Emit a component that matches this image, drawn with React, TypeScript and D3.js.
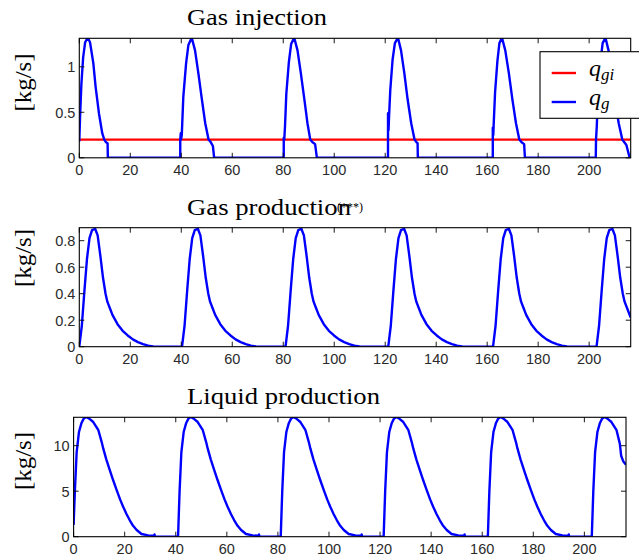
import React from "react";
import * as d3 from "d3";

// ---------- data ----------
const timeMax = 216.3;
const xTickValues = [0, 20, 40, 60, 80, 100, 120, 140, 160, 180, 200];

const injTicks = [0, 0.5, 1];
const prodTicks = [0, 0.2, 0.4, 0.6, 0.8];
const liqTicks = [0, 5, 10];

const titles = ["Gas injection", "Gas production", "Liquid production"];
const yLabel = "[kg/s]";

// q_gi : constant injection set-point
const qgi: [number, number][] = [[0, 0.2], [216.3, 0.2]];

// q_g : gas injection rate
const qgInj: [number, number][] = [
  [0, 0.18], [0.3, 0.45], [0.8, 0.8], [1.5, 1.1], [2.3, 1.27], [3.3, 1.32], [4.2, 1.27], [5.5, 1.04], [6.4, 0.78], [7.7, 0.49], [9.0, 0.27], [9.8, 0.2], [10.5, 0.17], [11.1, 0.16], [11.2, 0],
  [39.6, 0], [39.6, 0.2], [39.8, 0.27], [39.9, 0.2], [40.2, 0.25], [40.8, 0.67], [41.9, 1.04], [42.8, 1.24], [44.1, 1.32], [45.4, 1.18], [46.7, 0.93], [48.1, 0.64], [49.4, 0.38], [50.7, 0.2], [51.6, 0.17], [52.4, 0.13], [52.9, 0],
  [80.2, 0], [80.2, 0.22], [80.4, 0.2], [80.7, 0.35], [81.2, 0.7], [82.2, 1.05], [83.1, 1.25], [84.3, 1.32], [85.6, 1.18], [86.9, 0.93], [88.3, 0.64], [89.5, 0.38], [90.6, 0.2], [91.5, 0.17], [92.5, 0.15], [93.2, 0],
  [121.1, 0], [121.1, 0.49], [121.3, 0.3], [121.5, 0.45], [122, 0.75], [122.9, 1.08], [123.8, 1.26], [125, 1.32], [126.2, 1.18], [127.5, 0.93], [128.8, 0.64], [130.2, 0.38], [131.5, 0.2], [132.3, 0.17], [132.7, 0.16], [132.8, 0],
  [162.2, 0], [162.2, 0.33], [162.4, 0.25], [162.6, 0.4], [163.1, 0.72], [164, 1.06], [164.8, 1.26], [165.8, 1.32], [167.1, 1.18], [168.5, 0.93], [169.9, 0.64], [171.3, 0.38], [172.6, 0.2], [173.5, 0.17], [174.5, 0.15], [174.8, 0],
  [202.6, 0], [202.7, 0.2], [203, 0.35], [203.5, 0.7], [204.4, 1.05], [205.3, 1.26], [206.4, 1.32], [207.6, 1.18], [208.8, 0.93], [210.1, 0.64], [211.6, 0.38], [213, 0.2], [213.8, 0.17], [214.6, 0.14], [215.9, 0], [216.3, 0],
];

// gas production
const gasProd: [number, number][] = [
  [0, 0], [1, 0.16], [2, 0.42], [3, 0.66], [4, 0.82], [5, 0.88], [6.2, 0.89], [7.2, 0.84], [8.3, 0.68], [9.3, 0.52], [10.3, 0.4], [11, 0.34], [12, 0.29], [13, 0.24], [15, 0.17], [17, 0.12], [19, 0.085], [21, 0.055], [23, 0.035], [25, 0.02], [27, 0.008], [29, 0.002], [31, 0],
  [40.3, 0], [41.3, 0.16], [42.3, 0.42], [43.3, 0.66], [44.3, 0.82], [45.3, 0.88], [46.5, 0.89], [47.5, 0.84], [48.6, 0.68], [49.6, 0.52], [50.6, 0.4], [51.3, 0.34], [52.3, 0.29], [53.3, 0.24], [55.3, 0.17], [57.3, 0.12], [59.3, 0.085], [61.3, 0.055], [63.3, 0.035], [65.3, 0.02], [67.3, 0.008], [69.3, 0.002], [71.3, 0],
  [80.9, 0], [81.9, 0.16], [82.9, 0.42], [83.9, 0.66], [84.9, 0.82], [85.9, 0.88], [87.1, 0.89], [88.1, 0.84], [89.2, 0.68], [90.2, 0.52], [91.2, 0.4], [91.9, 0.34], [92.9, 0.29], [93.9, 0.24], [95.9, 0.17], [97.9, 0.12], [99.9, 0.085], [101.9, 0.055], [103.9, 0.035], [105.9, 0.02], [107.9, 0.008], [109.9, 0.002], [111.9, 0],
  [121.2, 0], [122.2, 0.16], [123.2, 0.42], [124.2, 0.66], [125.2, 0.82], [126.2, 0.88], [127.4, 0.89], [128.4, 0.84], [129.5, 0.68], [130.5, 0.52], [131.5, 0.4], [132.2, 0.34], [133.2, 0.29], [134.2, 0.24], [136.2, 0.17], [138.2, 0.12], [140.2, 0.085], [142.2, 0.055], [144.2, 0.035], [146.2, 0.02], [148.2, 0.008], [150.2, 0.002], [152.2, 0],
  [162.3, 0], [163.3, 0.16], [164.3, 0.42], [165.3, 0.66], [166.3, 0.82], [167.3, 0.88], [168.5, 0.89], [169.5, 0.84], [170.6, 0.68], [171.6, 0.52], [172.6, 0.4], [173.3, 0.34], [174.3, 0.29], [175.3, 0.24], [177.3, 0.17], [179.3, 0.12], [181.3, 0.085], [183.3, 0.055], [185.3, 0.035], [187.3, 0.02], [189.3, 0.008], [191.3, 0.002], [193.3, 0],
  [202.9, 0], [203.9, 0.16], [204.9, 0.42], [205.9, 0.66], [206.9, 0.82], [207.9, 0.88], [209.1, 0.89], [210.1, 0.84], [211.2, 0.68], [212.2, 0.52], [213.2, 0.4], [213.9, 0.34], [214.9, 0.29], [216.3, 0.22],
];

// liquid production
const liqProd: [number, number][] = [
  [0, 1.3], [0.5, 5], [1.2, 9.3], [2.1, 11.5], [3.1, 12.5], [3.9, 12.95], [4.8, 13.15], [6, 13], [7.7, 12.6], [9.7, 11.7], [11, 10.4], [11.6, 9.7], [12.8, 8.5], [14.2, 7.3], [15.5, 6.2], [16.9, 5.1], [18.2, 4.1], [19.4, 3.3], [20.7, 2.5], [22, 1.8], [23.3, 1.2], [24.7, 0.74], [26.6, 0.3], [29.2, 0.15], [31.5, 0.1], [31.7, 0.25], [31.8, 0],
  [40.9, 0], [41.5, 5], [42.2, 9.3], [43.1, 11.5], [44.1, 12.5], [44.9, 12.95], [45.8, 13.15], [46.9, 13], [48.6, 12.6], [50.6, 11.7], [51.9, 10.4], [52.5, 9.7], [53.7, 8.5], [55.1, 7.3], [56.4, 6.2], [57.8, 5.1], [59.1, 4.1], [60.3, 3.3], [61.6, 2.5], [62.9, 1.8], [64.2, 1.2], [65.6, 0.74], [67.5, 0.3], [70.1, 0.15], [72.4, 0.1], [72.6, 0.25], [72.7, 0],
  [81.1, 0], [81.7, 5], [82.4, 9.3], [83.3, 11.5], [84.3, 12.5], [85.1, 12.95], [86, 13.15], [87.1, 13], [88.8, 12.6], [90.8, 11.7], [92.1, 10.4], [92.7, 9.7], [93.9, 8.5], [95.3, 7.3], [96.6, 6.2], [98, 5.1], [99.3, 4.1], [100.5, 3.3], [101.8, 2.5], [103.1, 1.8], [104.4, 1.2], [105.8, 0.74], [107.7, 0.3], [110.3, 0.15], [112.6, 0.1], [112.8, 0.25], [112.9, 0],
  [121.4, 0], [122, 5], [122.7, 9.3], [123.6, 11.5], [124.6, 12.5], [125.4, 12.95], [126.3, 13.15], [127.4, 13], [129.1, 12.6], [131.1, 11.7], [132.4, 10.4], [133, 9.7], [134.2, 8.5], [135.6, 7.3], [136.9, 6.2], [138.3, 5.1], [139.6, 4.1], [140.8, 3.3], [142.1, 2.5], [143.4, 1.8], [144.7, 1.2], [146.1, 0.74], [148, 0.3], [150.6, 0.15], [152.9, 0.1], [153.1, 0.25], [153.2, 0],
  [162.2, 0], [162.8, 5], [163.5, 9.3], [164.4, 11.5], [165.4, 12.5], [166.2, 12.95], [167.1, 13.15], [168.2, 13], [169.9, 12.6], [171.9, 11.7], [173.2, 10.4], [173.8, 9.7], [175, 8.5], [176.4, 7.3], [177.7, 6.2], [179.1, 5.1], [180.4, 4.1], [181.6, 3.3], [182.9, 2.5], [184.2, 1.8], [185.5, 1.2], [186.9, 0.74], [188.8, 0.3], [191.4, 0.15], [193.7, 0.1], [193.9, 0.25], [194, 0],
  [202.9, 0], [203.5, 5], [204.2, 9.3], [205.1, 11.5], [206.1, 12.5], [206.9, 12.95], [207.8, 13.15], [208.9, 13], [210.6, 12.6], [212.6, 11.7], [213.9, 10.2], [214.4, 8.9], [215.2, 8.3], [216.3, 7.9],
];

// ---------- drawing ----------
const BLUE = "#0000ff";
const RED = "#ff0000";
const TICK_FONT = "'Liberation Sans', Arial, Helvetica, sans-serif";
const SERIF = "'Liberation Serif', 'Times New Roman', serif";

type Series = { data: [number, number][]; color: string };

function Panel(props: {
  id: string;
  left: number; right: number; top: number; bottom: number;
  yMax: number; yTicks: number[];
  series: Series[];
  title: string; titleLen: number; titleY: number;
  labelCenter: number;
}) {
  const { id, left, right, top, bottom, yMax, yTicks, series } = props;
  const x = d3.scaleLinear().domain([0, timeMax]).range([left, right]);
  const y = d3.scaleLinear().domain([0, yMax]).range([bottom, top]);
  const line = d3.line<[number, number]>().x((d) => x(d[0])).y((d) => y(d[1]));
  const tl = 5;
  return (
    <g>
      <defs>
        <clipPath id={id}>
          <rect x={left} y={top} width={right - left} height={bottom - top} />
        </clipPath>
      </defs>
      <g clipPath={`url(#${id})`}>
        {series.map((s, i) => (
          <path key={i} d={line(s.data) || ""} fill="none" stroke={s.color} strokeWidth={2.4} strokeLinejoin="round" />
        ))}
      </g>
      <rect x={left} y={top} width={right - left} height={bottom - top} fill="none" stroke="#000" strokeWidth={1.1} />
      {xTickValues.map((t) => (
        <g key={"x" + t}>
          <line x1={x(t)} x2={x(t)} y1={bottom} y2={bottom - tl} stroke="#000" strokeWidth={0.9} />
          <line x1={x(t)} x2={x(t)} y1={top} y2={top + tl} stroke="#000" strokeWidth={0.9} />
          <text x={x(t)} y={bottom + 17} textAnchor="middle" fontFamily={TICK_FONT} fontSize={14.5} fill="#2a2a2a">{t}</text>
        </g>
      ))}
      {yTicks.map((t) => (
        <g key={"y" + t}>
          <line x1={left} x2={left + tl} y1={y(t)} y2={y(t)} stroke="#000" strokeWidth={0.9} />
          <line x1={right} x2={right - tl} y1={y(t)} y2={y(t)} stroke="#000" strokeWidth={0.9} />
          <text x={left - 4} y={y(t) + 5.5} textAnchor="end" fontFamily={TICK_FONT} fontSize={14.5} fill="#2a2a2a">{t}</text>
        </g>
      ))}
      <text x={187} y={props.titleY} fontFamily={SERIF} fontSize={24} fill="#000" textLength={props.titleLen} lengthAdjust="spacingAndGlyphs">{props.title}</text>
      <text transform={`translate(31,${props.labelCenter}) rotate(-90)`} textAnchor="middle" fontFamily={SERIF} fontSize={24} fill="#000" textLength={58} lengthAdjust="spacingAndGlyphs">{yLabel}</text>
    </g>
  );
}

export default function App() {
  return (
    <svg width={639} height={558} style={{ position: "absolute", left: 0, top: 0, background: "#fff" }}>
      <rect x={0} y={0} width={639} height={558} fill="#fff" />
      <Panel id="c1" left={79.3} right={630.7} top={38.3} bottom={157.8} yMax={1.313} yTicks={injTicks}
        series={[{ data: qgi, color: RED }, { data: qgInj, color: BLUE }]}
        title={titles[0]} titleLen={140} titleY={24.5} labelCenter={82.5} />
      <Panel id="c2" left={79.3} right={630.7} top={227.7} bottom={346.7} yMax={0.898} yTicks={prodTicks}
        series={[{ data: gasProd, color: BLUE }]}
        title={titles[1]} titleLen={164} titleY={215} labelCenter={258} />
      <text x={337} y={211} fontFamily={SERIF} fontSize={13} fill="#000" textLength={26} lengthAdjust="spacingAndGlyphs">(***)</text>
      <Panel id="c3" left={73.6} right={626} top={417.3} bottom={536.7} yMax={13.12} yTicks={liqTicks}
        series={[{ data: liqProd, color: BLUE }]}
        title={titles[2]} titleLen={193} titleY={403.5} labelCenter={461} />
      <g>
        <rect x={540} y={51.7} width={120} height={66.6} fill="#fff" stroke="#000" strokeWidth={1.1} />
        <line x1={551.7} x2={576} y1={73} y2={73} stroke={RED} strokeWidth={2.4} />
        <line x1={551.7} x2={576} y1={102} y2={102} stroke={BLUE} strokeWidth={2.4} />
        <text x={589} y={76} fontFamily={SERIF} fontStyle="italic" fontSize={24} fill="#000">q<tspan fontSize={17} dy={4}>gi</tspan></text>
        <text x={589} y={105} fontFamily={SERIF} fontStyle="italic" fontSize={24} fill="#000">q<tspan fontSize={17} dy={4}>g</tspan></text>
      </g>
    </svg>
  );
}
